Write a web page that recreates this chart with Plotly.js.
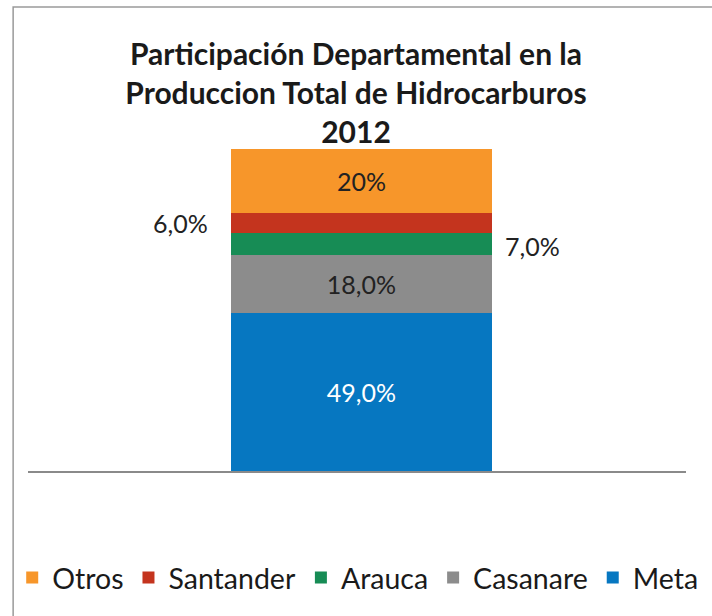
<!DOCTYPE html>
<html>
<head>
<meta charset="utf-8">
<script src="https://cdn.plot.ly/plotly-3.0.1.min.js"></script>
<style>html,body{margin:0;padding:0;background:#fff;}#chart{width:712px;height:616px;}</style>
</head>
<body>
<div id="chart"></div>
<script>
// Data (bottom to top of the stack)
const category = ['2012'];
const departments = ['Meta', 'Casanare', 'Arauca', 'Santander', 'Otros'];
const shares = [49, 18, 7, 6, 20];
const labels = ['49,0%', '18,0%', '7,0%', '6,0%', '20%'];
const colors = ['#0677C1', '#8C8C8C', '#178C55', '#C4341E', '#F7962A'];
const insideLabel = [true, true, false, false, true];
const labelColors = ['#ffffff', '#222222', '#222222', '#222222', '#222222'];
const outsideShift = [0, 0, 171, -181, 0];

const FONT = 'Lato, "Open Sans", sans-serif';

const traces = departments.map((d, i) => ({
  type: 'bar',
  name: d,
  x: [0],
  y: [shares[i]],
  width: 0.396,
  marker: { color: colors[i], line: { width: 0 } },
  text: [insideLabel[i] ? labels[i] : ''],
  textposition: 'inside',
  insidetextanchor: 'middle',
  textangle: 0,
  constraintext: 'none',
  insidetextfont: { family: FONT, size: 25, color: labelColors[i] },
  hoverinfo: 'name+y'
}));

// Outside labels for the thin segments
const annotations = [];
let cum = 0;
departments.forEach((d, i) => {
  const mid = cum + shares[i] / 2;
  cum += shares[i];
  if (!insideLabel[i]) {
    annotations.push({
      x: 0, y: mid, xref: 'x', yref: 'y',
      text: labels[i], showarrow: false,
      xshift: outsideShift[i], yshift: i === 2 ? -2 : 0,
      font: { family: FONT, size: 25, color: '#222222' }
    });
  }
});

const layout = {
  width: 712, height: 616,
  paper_bgcolor: '#ffffff', plot_bgcolor: '#ffffff',
  barmode: 'stack',
  margin: { l: 22, r: 26, t: 149, b: 145 },
  title: {
    text: 'Participación Departamental en la<br>Produccion Total de Hidrocarburos<br>2012',
    font: { family: FONT, size: 30, color: '#1a1a1a', weight: 'bold' },
    x: 0.5, xref: 'container', xanchor: 'center',
    y: 0.8945, yref: 'container', yanchor: 'top'
  },
  xaxis: {
    type: 'linear',
    range: [-0.5068, 0.4932],
    showticklabels: false, ticks: '',
    showgrid: false, zeroline: false,
    showline: true, linecolor: '#8a8a8a', linewidth: 1.5,
    fixedrange: true
  },
  yaxis: {
    range: [0, 100],
    visible: false, showgrid: false, zeroline: false,
    fixedrange: true
  },
  showlegend: true,
  legend: {
    orientation: 'h',
    traceorder: 'reversed',
    x: -0.024, xanchor: 'left',
    y: -0.332, yanchor: 'middle',
    font: { family: FONT, size: 28.5, color: '#1a1a1a' },
    bgcolor: 'rgba(0,0,0,0)'
  },
  annotations: annotations,
  shapes: [{
    type: 'rect', xref: 'paper', yref: 'paper',
    x0: -0.0226, x1: 1.2, y0: -1, y1: 1.441,
    line: { color: '#9a9a9a', width: 1.5 },
    fillcolor: 'rgba(0,0,0,0)', layer: 'below'
  }]
};

Plotly.newPlot('chart', traces, layout, { displayModeBar: false, staticPlot: true });
</script>
</body>
</html>
